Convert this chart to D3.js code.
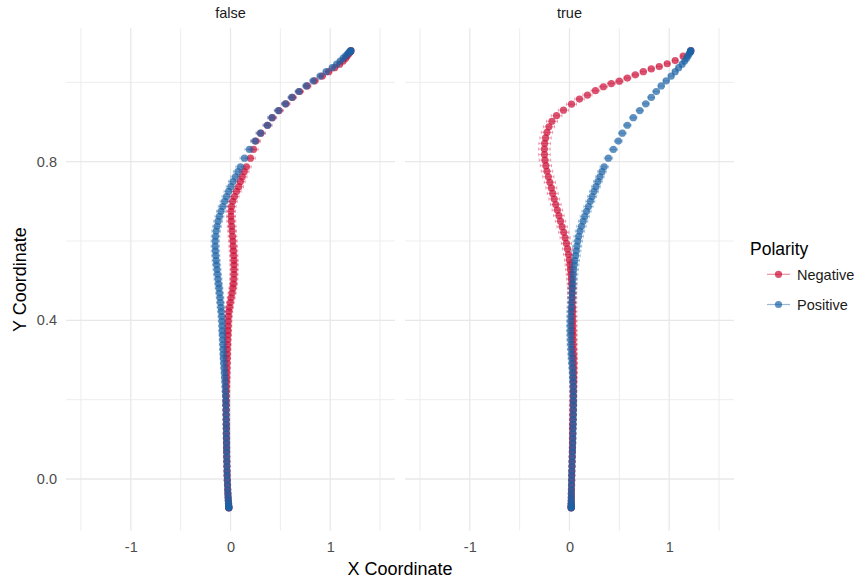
<!DOCTYPE html>
<html>
<head>
<meta charset="utf-8">
<script src="https://cdn.jsdelivr.net/npm/d3@7"></script>
<style>
  body { margin: 0; background: #fff; }
  text { font-family: "Liberation Sans", Arial, sans-serif; }
</style>
</head>
<body>
<div id="chart"></div>
<script>
// ---- data (101 time steps per trajectory) ----
const panels = ["false", "true"];
const polarities = ["Negative", "Positive"];
const xTicks = [-1, 0, 1];
const yTicks = [0.0, 0.4, 0.8];

const yFalseNeg = [-0.073,-0.072,-0.070,-0.066,-0.061,-0.054,-0.046,-0.037,-0.027,-0.015,
  -0.003,0.009,0.020,0.032,0.044,0.056,0.068,0.079,0.091,0.103,
  0.115,0.127,0.138,0.150,0.162,0.174,0.186,0.197,0.209,0.221,
  0.233,0.245,0.256,0.268,0.280,0.292,0.304,0.315,0.327,0.339,
  0.351,0.363,0.374,0.386,0.398,0.410,0.422,0.433,0.445,0.457,
  0.469,0.481,0.492,0.504,0.516,0.528,0.540,0.551,0.563,0.575,
  0.587,0.600,0.612,0.625,0.637,0.650,0.662,0.675,0.687,0.700,
  0.712,0.725,0.737,0.750,0.762,0.775,0.787,0.809,0.831,0.852,
  0.872,0.892,0.911,0.929,0.946,0.962,0.977,0.991,1.004,1.016,
  1.027,1.037,1.046,1.054,1.061,1.067,1.072,1.076,1.078,1.079,1.080];
const xFalseNeg = [-0.017,-0.017,-0.018,-0.019,-0.020,-0.022,-0.024,-0.026,-0.028,-0.030,
  -0.032,-0.034,-0.035,-0.036,-0.037,-0.038,-0.039,-0.039,-0.040,-0.040,
  -0.041,-0.041,-0.042,-0.042,-0.043,-0.043,-0.043,-0.043,-0.043,-0.042,
  -0.041,-0.040,-0.039,-0.038,-0.037,-0.036,-0.035,-0.033,-0.032,-0.030,
  -0.029,-0.027,-0.026,-0.024,-0.023,-0.020,-0.016,-0.010,-0.002,0.007,
  0.016,0.024,0.030,0.033,0.035,0.036,0.036,0.035,0.033,0.030,
  0.027,0.024,0.020,0.016,0.012,0.008,0.005,0.005,0.010,0.022,
  0.040,0.060,0.083,0.100,0.118,0.138,0.160,0.200,0.230,0.255,
  0.305,0.372,0.420,0.487,0.556,0.622,0.693,0.770,0.845,0.920,
  0.985,1.045,1.095,1.130,1.155,1.172,1.187,1.197,1.203,1.206,1.208];
const seFalseNeg = [0.010,0.012,0.014,0.016,0.018,0.020,0.021,0.022,0.023,0.024,
  0.025,0.025,0.026,0.026,0.027,0.027,0.028,0.028,0.029,0.029,
  0.030,0.030,0.030,0.031,0.031,0.031,0.032,0.032,0.032,0.033,
  0.033,0.033,0.034,0.034,0.034,0.035,0.035,0.035,0.036,0.036,
  0.036,0.037,0.037,0.037,0.038,0.038,0.038,0.039,0.039,0.039,
  0.040,0.040,0.040,0.041,0.041,0.041,0.042,0.042,0.042,0.043,
  0.043,0.043,0.044,0.044,0.044,0.045,0.045,0.045,0.046,0.046,
  0.046,0.047,0.047,0.047,0.048,0.048,0.048,0.048,0.047,0.047,
  0.046,0.045,0.044,0.043,0.042,0.041,0.040,0.038,0.036,0.034,
  0.032,0.030,0.028,0.026,0.024,0.022,0.020,0.018,0.016,0.014,0.012];

const yFalsePos = [-0.073,-0.072,-0.070,-0.066,-0.061,-0.054,-0.046,-0.037,-0.027,-0.015,
  -0.003,0.009,0.020,0.032,0.044,0.056,0.068,0.079,0.091,0.103,
  0.115,0.127,0.138,0.150,0.162,0.174,0.186,0.197,0.209,0.221,
  0.233,0.245,0.256,0.268,0.280,0.292,0.304,0.315,0.327,0.339,
  0.351,0.363,0.374,0.386,0.398,0.410,0.422,0.433,0.445,0.457,
  0.469,0.481,0.492,0.504,0.516,0.528,0.540,0.551,0.563,0.575,
  0.587,0.600,0.612,0.625,0.637,0.650,0.662,0.675,0.687,0.700,
  0.712,0.725,0.737,0.750,0.762,0.775,0.787,0.809,0.831,0.852,
  0.872,0.892,0.911,0.929,0.946,0.962,0.977,0.991,1.004,1.016,
  1.027,1.037,1.046,1.054,1.061,1.067,1.072,1.076,1.078,1.079,1.080];
const xFalsePos = [-0.016,-0.017,-0.018,-0.019,-0.020,-0.022,-0.024,-0.026,-0.028,-0.030,
  -0.032,-0.034,-0.035,-0.036,-0.037,-0.038,-0.039,-0.040,-0.040,-0.041,
  -0.042,-0.042,-0.043,-0.043,-0.044,-0.045,-0.046,-0.047,-0.049,-0.051,
  -0.053,-0.055,-0.058,-0.061,-0.064,-0.067,-0.070,-0.072,-0.074,-0.076,
  -0.078,-0.080,-0.082,-0.083,-0.085,-0.088,-0.092,-0.096,-0.101,-0.105,
  -0.110,-0.115,-0.120,-0.125,-0.130,-0.135,-0.140,-0.144,-0.148,-0.151,
  -0.153,-0.153,-0.150,-0.144,-0.135,-0.124,-0.111,-0.096,-0.078,-0.059,
  -0.040,-0.019,0.003,0.025,0.050,0.075,0.100,0.140,0.190,0.245,
  0.300,0.370,0.415,0.480,0.550,0.615,0.685,0.760,0.830,0.900,
  0.960,1.020,1.065,1.100,1.130,1.155,1.175,1.190,1.200,1.205,1.208];
const seFalsePos = [0.010,0.012,0.014,0.016,0.018,0.019,0.020,0.021,0.022,0.023,
  0.024,0.024,0.025,0.025,0.026,0.026,0.027,0.027,0.028,0.028,
  0.029,0.029,0.029,0.030,0.030,0.030,0.031,0.031,0.031,0.032,
  0.032,0.032,0.033,0.033,0.033,0.034,0.034,0.034,0.035,0.035,
  0.035,0.036,0.036,0.036,0.037,0.037,0.037,0.038,0.038,0.038,
  0.039,0.039,0.039,0.040,0.040,0.040,0.041,0.041,0.041,0.042,
  0.042,0.042,0.043,0.043,0.043,0.044,0.044,0.044,0.045,0.045,
  0.045,0.046,0.046,0.046,0.046,0.046,0.046,0.045,0.045,0.044,
  0.044,0.043,0.042,0.041,0.040,0.039,0.038,0.036,0.034,0.032,
  0.030,0.028,0.026,0.024,0.022,0.020,0.018,0.016,0.014,0.012,0.010];

const yTrueNeg = [-0.073,-0.072,-0.070,-0.066,-0.061,-0.054,-0.046,-0.037,-0.027,-0.015,
  -0.003,0.009,0.020,0.032,0.044,0.056,0.068,0.079,0.091,0.103,
  0.115,0.127,0.138,0.150,0.162,0.174,0.186,0.197,0.209,0.221,
  0.233,0.245,0.256,0.268,0.280,0.292,0.304,0.315,0.327,0.339,
  0.351,0.363,0.374,0.386,0.398,0.410,0.422,0.433,0.445,0.457,
  0.469,0.481,0.492,0.504,0.516,0.528,0.540,0.552,0.566,0.580,
  0.594,0.608,0.622,0.636,0.650,0.664,0.678,0.692,0.706,0.720,
  0.734,0.748,0.762,0.776,0.790,0.804,0.818,0.832,0.846,0.860,
  0.874,0.888,0.902,0.916,0.930,0.945,0.958,0.968,0.979,0.989,
  0.997,1.003,1.011,1.019,1.027,1.034,1.040,1.047,1.055,1.066,1.080];
const xTrueNeg = [0.017,0.017,0.017,0.017,0.018,0.018,0.019,0.019,0.020,0.021,
  0.022,0.023,0.024,0.025,0.026,0.027,0.028,0.029,0.030,0.030,
  0.031,0.031,0.032,0.033,0.034,0.035,0.036,0.037,0.038,0.039,
  0.040,0.041,0.041,0.042,0.042,0.042,0.041,0.040,0.039,0.038,
  0.037,0.036,0.035,0.034,0.033,0.032,0.031,0.030,0.029,0.028,
  0.027,0.025,0.022,0.018,0.014,0.009,0.004,-0.002,-0.010,-0.020,
  -0.031,-0.044,-0.058,-0.074,-0.090,-0.106,-0.122,-0.138,-0.153,-0.168,
  -0.182,-0.197,-0.212,-0.226,-0.237,-0.246,-0.251,-0.252,-0.249,-0.240,
  -0.226,-0.206,-0.176,-0.130,-0.060,0.020,0.100,0.180,0.260,0.340,
  0.420,0.500,0.580,0.660,0.740,0.820,0.900,0.980,1.060,1.140,1.217];
const seTrueNeg = [0.010,0.012,0.014,0.016,0.018,0.020,0.021,0.022,0.023,0.024,
  0.025,0.026,0.026,0.027,0.027,0.028,0.028,0.029,0.029,0.030,
  0.030,0.031,0.031,0.032,0.032,0.033,0.033,0.034,0.034,0.035,
  0.035,0.036,0.036,0.037,0.037,0.038,0.038,0.039,0.039,0.040,
  0.040,0.041,0.041,0.042,0.042,0.043,0.043,0.044,0.044,0.045,
  0.045,0.046,0.046,0.047,0.047,0.048,0.048,0.049,0.049,0.050,
  0.050,0.051,0.051,0.052,0.052,0.053,0.053,0.054,0.054,0.055,
  0.055,0.056,0.056,0.057,0.057,0.058,0.058,0.058,0.058,0.057,
  0.057,0.056,0.055,0.054,0.052,0.050,0.048,0.046,0.044,0.042,
  0.040,0.038,0.036,0.034,0.032,0.030,0.028,0.026,0.024,0.020,0.016];

const yTruePos = [-0.073,-0.072,-0.070,-0.066,-0.061,-0.054,-0.046,-0.037,-0.027,-0.015,
  -0.003,0.009,0.020,0.032,0.044,0.056,0.068,0.079,0.091,0.103,
  0.115,0.127,0.138,0.150,0.162,0.174,0.186,0.197,0.209,0.221,
  0.233,0.245,0.256,0.268,0.280,0.292,0.304,0.315,0.327,0.339,
  0.351,0.363,0.374,0.386,0.398,0.410,0.422,0.433,0.445,0.457,
  0.469,0.481,0.492,0.504,0.516,0.528,0.540,0.551,0.563,0.575,
  0.587,0.600,0.612,0.625,0.637,0.650,0.662,0.675,0.687,0.700,
  0.712,0.725,0.737,0.750,0.762,0.775,0.787,0.809,0.831,0.852,
  0.872,0.892,0.911,0.929,0.946,0.962,0.977,0.991,1.004,1.016,
  1.027,1.037,1.046,1.054,1.061,1.067,1.072,1.076,1.078,1.079,1.080];
const xTruePos = [0.017,0.017,0.017,0.017,0.017,0.018,0.018,0.018,0.019,0.020,
  0.021,0.022,0.023,0.025,0.026,0.028,0.030,0.031,0.033,0.034,
  0.035,0.036,0.037,0.038,0.039,0.040,0.040,0.040,0.040,0.039,
  0.038,0.036,0.034,0.032,0.029,0.026,0.023,0.020,0.017,0.014,
  0.012,0.011,0.010,0.010,0.011,0.013,0.015,0.018,0.021,0.024,
  0.027,0.030,0.033,0.036,0.039,0.043,0.048,0.054,0.061,0.068,
  0.075,0.083,0.092,0.105,0.120,0.137,0.153,0.171,0.190,0.209,
  0.227,0.246,0.265,0.285,0.305,0.326,0.348,0.390,0.440,0.490,
  0.530,0.580,0.640,0.705,0.765,0.820,0.870,0.920,0.970,1.020,
  1.060,1.095,1.130,1.155,1.175,1.190,1.200,1.210,1.214,1.216,1.217];
const seTruePos = [0.010,0.012,0.014,0.016,0.018,0.019,0.020,0.021,0.022,0.023,
  0.024,0.024,0.025,0.025,0.026,0.026,0.027,0.027,0.028,0.028,
  0.029,0.029,0.030,0.030,0.031,0.031,0.032,0.032,0.033,0.033,
  0.034,0.034,0.035,0.035,0.036,0.036,0.037,0.037,0.038,0.038,
  0.039,0.039,0.040,0.040,0.041,0.041,0.042,0.042,0.043,0.043,
  0.044,0.044,0.045,0.045,0.045,0.046,0.046,0.046,0.047,0.047,
  0.047,0.047,0.047,0.047,0.047,0.047,0.046,0.046,0.046,0.045,
  0.045,0.045,0.044,0.044,0.043,0.043,0.042,0.042,0.041,0.040,
  0.039,0.038,0.037,0.036,0.035,0.034,0.033,0.032,0.030,0.028,
  0.026,0.024,0.022,0.020,0.018,0.016,0.014,0.013,0.012,0.011,0.010];

// build rows for drawing
const seriesList = [
  { panel: "false", polarity: "Negative", x: xFalseNeg, y: yFalseNeg, se: seFalseNeg },
  { panel: "false", polarity: "Positive", x: xFalsePos, y: yFalsePos, se: seFalsePos },
  { panel: "true",  polarity: "Negative", x: xTrueNeg,  y: yTrueNeg,  se: seTrueNeg },
  { panel: "true",  polarity: "Positive", x: xTruePos,  y: yTruePos,  se: seTruePos }
];
const rows = seriesList.flatMap(s => s.x.map((v, i) => ({
  panel: s.panel, polarity: s.polarity, x: v, y: s.y[i], se: s.se[i]
})));

// ---- layout ----
const svgWidth = 860;
const svgHeight = 579;
const plotTop = 28.3;
const plotBottom = 530.7;
const panelLeft = { "false": 66, "true": 405 };
const panelWidth = 329;
const tickSize = "14.5px";
const titleSize = "18px";
const pointR = 3.6;

const color = d3.scaleOrdinal()
  .domain(polarities)
  .range(["#cc0a33", "#1b62a5"]);

const y = d3.scaleLinear()
  .domain([-0.1304, 1.1364])
  .range([plotBottom, plotTop]);

const svg = d3.select("#chart").append("svg")
  .attr("width", svgWidth)
  .attr("height", svgHeight);

svg.append("rect").attr("width", svgWidth).attr("height", svgHeight).attr("fill", "#fff");

panels.forEach(p => {
  const x = d3.scaleLinear()
    .domain([-1.65, 1.65])
    .range([panelLeft[p], panelLeft[p] + panelWidth]);

  const g = svg.append("g").attr("class", "panel-" + p);

  // grid: minor then major
  const xMinor = [-1.5, -0.5, 0.5, 1.5];
  const yMinor = [0.2, 0.6, 1.0];
  g.selectAll(".vminor").data(xMinor).join("line")
    .attr("x1", d => x(d)).attr("x2", d => x(d))
    .attr("y1", plotTop).attr("y2", plotBottom)
    .attr("stroke", "#ebebeb").attr("stroke-width", 0.9);
  g.selectAll(".hminor").data(yMinor).join("line")
    .attr("x1", x.range()[0]).attr("x2", x.range()[1])
    .attr("y1", d => y(d)).attr("y2", d => y(d))
    .attr("stroke", "#ebebeb").attr("stroke-width", 0.9);
  g.selectAll(".vmajor").data(xTicks).join("line")
    .attr("x1", d => x(d)).attr("x2", d => x(d))
    .attr("y1", plotTop).attr("y2", plotBottom)
    .attr("stroke", "#e8e8e8").attr("stroke-width", 1.3);
  g.selectAll(".hmajor").data(yTicks).join("line")
    .attr("x1", x.range()[0]).attr("x2", x.range()[1])
    .attr("y1", d => y(d)).attr("y2", d => y(d))
    .attr("stroke", "#e8e8e8").attr("stroke-width", 1.3);

  // x axis labels
  const xAxis = g.append("g")
    .attr("transform", `translate(0, ${plotBottom})`)
    .call(d3.axisBottom(x).tickValues(xTicks).tickFormat(d => String(d)).tickSize(0).tickPadding(11));
  xAxis.select(".domain").remove();
  xAxis.selectAll("text").attr("fill", "#4d4d4d").style("font-size", tickSize);

  // strip label
  g.append("text")
    .attr("x", x(0)).attr("y", 18)
    .attr("text-anchor", "middle")
    .attr("fill", "#1a1a1a")
    .style("font-size", tickSize)
    .text(p);

  const data = rows.filter(r => r.panel === p);

  // horizontal error bars
  const bars = g.append("g").attr("class", "errorbars");
  polarities.forEach(pol => {
    const sub = data.filter(r => r.polarity === pol);
    bars.selectAll(".eb-" + pol).data(sub).join("path")
      .attr("d", d => {
        const x0 = x(d.x - d.se), x1 = x(d.x + d.se), yy = y(d.y);
        return `M${x0},${yy - 1.6}V${yy + 1.6}M${x0},${yy}H${x1}M${x1},${yy - 1.6}V${yy + 1.6}`;
      })
      .attr("fill", "none")
      .attr("stroke", color(pol))
      .attr("stroke-opacity", 0.35)
      .attr("stroke-width", 1);
  });

  // points
  const pts = g.append("g").attr("class", "points");
  polarities.forEach(pol => {
    const sub = data.filter(r => r.polarity === pol);
    pts.selectAll(".pt-" + pol).data(sub).join("circle")
      .attr("cx", d => x(d.x))
      .attr("cy", d => y(d.y))
      .attr("r", pointR)
      .attr("fill", color(pol))
      .attr("fill-opacity", 0.7);
  });
});

// y axis labels (left panel only)
const yAxis = svg.append("g")
  .attr("transform", `translate(${panelLeft["false"]}, 0)`)
  .call(d3.axisLeft(y).tickValues(yTicks).tickFormat(d3.format(".1f")).tickSize(0).tickPadding(9));
yAxis.select(".domain").remove();
yAxis.selectAll("text").attr("fill", "#4d4d4d").style("font-size", tickSize);

// axis titles
svg.append("text")
  .attr("x", 400).attr("y", 575)
  .attr("text-anchor", "middle")
  .style("font-size", titleSize)
  .text("X Coordinate");

svg.append("text")
  .attr("transform", `translate(26, ${(plotTop + plotBottom) / 2}) rotate(-90)`)
  .attr("text-anchor", "middle")
  .style("font-size", titleSize)
  .text("Y Coordinate");

// legend
const legend = svg.append("g").attr("transform", "translate(750, 0)");
legend.append("text")
  .attr("x", 0).attr("y", 255)
  .style("font-size", "17.5px")
  .text("Polarity");

const keyY = [274.3, 304.5];
polarities.forEach((pol, i) => {
  const k = legend.append("g").attr("transform", `translate(0, ${keyY[i]})`);
  k.append("line")
    .attr("x1", 17).attr("x2", 40)
    .attr("stroke", color(pol)).attr("stroke-opacity", 0.45).attr("stroke-width", 1.2);
  k.append("circle")
    .attr("cx", 28.5).attr("r", pointR)
    .attr("fill", color(pol)).attr("fill-opacity", 0.7);
  k.append("text")
    .attr("x", 47).attr("y", 5.2)
    .style("font-size", tickSize)
    .attr("fill", "#1a1a1a")
    .text(pol);
});
</script>
</body>
</html>
